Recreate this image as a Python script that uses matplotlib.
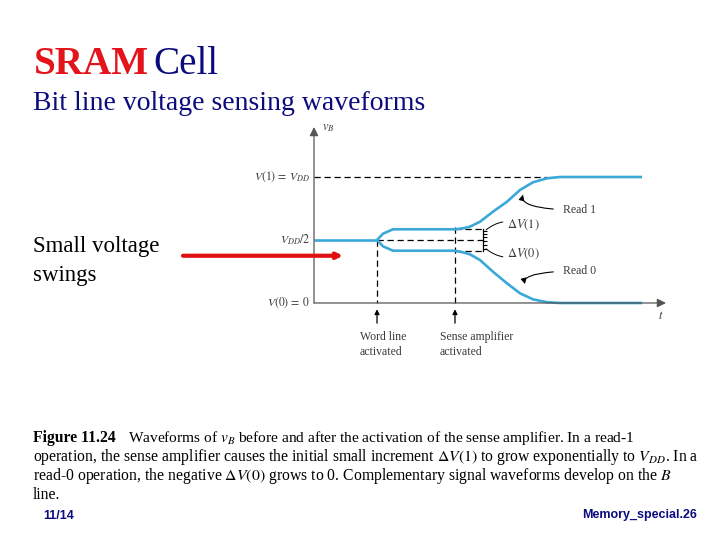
import matplotlib
matplotlib.use('Agg')
import matplotlib.pyplot as plt

plt.rcParams['font.family'] = ['Liberation Serif', 'DejaVu Serif']
plt.rcParams['mathtext.fontset'] = 'stix'

# waveform data (time in arbitrary units, voltage normalised to VDD = 1)
t_pre = [0.0, 6.3]
v_pre = [0.5, 0.5]
t_branch = [6.3, 6.9, 7.9, 14.1, 14.9, 15.6, 16.6, 17.9, 19.3, 20.6, 21.9, 23.3, 24.6, 32.8]
v_read1 = [0.5, 0.55, 0.585, 0.585, 0.593, 0.606, 0.645, 0.725, 0.804, 0.897, 0.958, 0.99, 1.0, 1.0]
v_read0 = [0.5, 0.45, 0.415, 0.415, 0.402, 0.386, 0.341, 0.248, 0.156, 0.077, 0.029, 0.006, 0.0, 0.0]

t_wordline = 6.3
t_senseamp = 14.1
v_dd = 1.0
dv_end = 16.9

level_labels = [r'$V(1)\,=\,V_{DD}$', r'$V_{DD}/2$', r'$V(0)\,=\,0$']
level_values = [1.0, 0.5, 0.0]

caption = [
    r'Waveforms of $v_B$ before and after the activation of the sense amplifier. In a read-1',
    r'operation, the sense amplifier causes the initial small increment $\Delta V(1)$ to grow exponentially to $V_{DD}$. In a',
    r'read-0 operation, the negative $\Delta V(0)$ grows to 0. Complementary signal waveforms develop on the $B$',
    'line.',
]

W, H = 720, 540
fig = plt.figure(figsize=(7.2, 5.4), dpi=100)
fig.patch.set_facecolor('white')

def px(x, y):
    return x / W, 1 - y / H

navy = '#0B0B7E'
grey = '#3A3A3A'
blue = '#3AA8D8'

# slide text
fig.text(*px(34, 74), 'SRAM', color='#E3141C', fontsize=28.2, fontweight='bold', va='baseline')
fig.text(*px(153, 74), 'Cell', color=navy, fontsize=28.2, va='baseline')
fig.text(*px(33, 110), 'Bit line voltage sensing waveforms', color=navy, fontsize=20, va='baseline')
fig.text(*px(33, 252), 'Small voltage', color='black', fontsize=16.5, va='baseline')
fig.text(*px(33, 281), 'swings', color='black', fontsize=16.5, va='baseline')

# diagram axes
ax = fig.add_axes([170 / W, 1 - 370 / H, 520 / W, 260 / H])
ax.set_xlim(-14.4, 37.6)
ax.set_ylim(-0.532, 1.532)
ax.axis('off')

ax.annotate('', xy=(0, 1.397), xytext=(0, 0),
            arrowprops=dict(arrowstyle='-|>', color='#555555', lw=0.9, mutation_scale=13,
                            shrinkA=0, shrinkB=0))
ax.annotate('', xy=(35.2, 0), xytext=(0, 0),
            arrowprops=dict(arrowstyle='-|>', color='#555555', lw=0.9, mutation_scale=13,
                            shrinkA=0, shrinkB=0))
ax.text(0.8, 1.39, r'$v_B$', fontsize=9, color=grey, ha='left', va='center')
ax.text(34.7, -0.1, r'$t$', fontsize=9, color=grey, ha='center', va='center')

dash = (0, (5, 3))
ax.plot([0, 23.3], [v_dd, v_dd], color='black', lw=0.9, ls=dash)
ax.plot([t_wordline, dv_end], [0.5, 0.5], color='black', lw=0.9, ls=dash)
ax.plot([t_senseamp, dv_end], [v_read1[3], v_read1[3]], color='black', lw=0.9, ls=dash)
ax.plot([t_senseamp, dv_end], [v_read0[3], v_read0[3]], color='black', lw=0.9, ls=dash)
ax.plot([t_wordline, t_wordline], [0.5, 0], color='black', lw=0.9, ls=dash)
ax.plot([t_senseamp, t_senseamp], [0.6, 0], color='black', lw=0.9, ls=dash)

# delta-V bracket
ax.plot([dv_end, dv_end], [v_read0[3], v_read1[3]], color='black', lw=0.9)
ax.plot([dv_end] * 6, [0.43, 0.46, 0.49, 0.52, 0.55, 0.575], ls='none', marker=1,
        markersize=3, color='black', mew=0.8)

ax.plot(t_pre, v_pre, color=blue, lw=1.9, solid_capstyle='butt')
ax.plot(t_branch, v_read1, color=blue, lw=1.9, solid_capstyle='butt')
ax.plot(t_branch, v_read0, color=blue, lw=1.9, solid_capstyle='butt')

for lab, v in zip(level_labels, level_values):
    ax.text(-0.4, v, lab, fontsize=8.5, color=grey, ha='right', va='center')

ax.annotate(r'$\Delta V(1)$', xy=(dv_end + 0.3, 0.58), xytext=(19.3, 0.62),
            fontsize=9, color=grey, ha='left', va='center',
            arrowprops=dict(arrowstyle='-', color='black', lw=0.7,
                            connectionstyle='arc3,rad=0.3', shrinkA=1, shrinkB=0))
ax.annotate(r'$\Delta V(0)$', xy=(dv_end + 0.3, 0.43), xytext=(19.3, 0.39),
            fontsize=9, color=grey, ha='left', va='center',
            arrowprops=dict(arrowstyle='-', color='black', lw=0.7,
                            connectionstyle='arc3,rad=-0.3', shrinkA=1, shrinkB=0))
ax.annotate('Read 1', xy=(20.9, 0.86), xytext=(24.9, 0.738),
            fontsize=8.5, color=grey, ha='left', va='center',
            arrowprops=dict(arrowstyle='-|>', color='black', lw=0.8, mutation_scale=8,
                            connectionstyle='angle3,angleA=0,angleB=75', shrinkA=5, shrinkB=0))
ax.annotate('Read 0', xy=(21.1, 0.15), xytext=(24.9, 0.254),
            fontsize=8.5, color=grey, ha='left', va='center',
            arrowprops=dict(arrowstyle='-|>', color='black', lw=0.8, mutation_scale=8,
                            connectionstyle='angle3,angleA=0,angleB=-75', shrinkA=5, shrinkB=0))

for tx, lab, tl in [(t_wordline, 'Word line\nactivated', 4.6),
                    (t_senseamp, 'Sense amplifier\nactivated', 12.6)]:
    ax.annotate('', xy=(tx, -0.05), xytext=(tx, -0.16),
                arrowprops=dict(arrowstyle='-|>', color='black', lw=0.9, mutation_scale=7,
                                shrinkA=0, shrinkB=0))
    ax.text(tl, -0.225, lab, fontsize=8.5, color=grey, ha='left', va='top', linespacing=1.25)

# red arrow pointing at the small swings
ax.annotate('', xy=(2.9, 0.375), xytext=(-13.1, 0.375),
            arrowprops=dict(arrowstyle='-|>', color='#E01010', lw=3, mutation_scale=8,
                            shrinkA=0, shrinkB=0), annotation_clip=False)

# caption
fs_cap = 11.3
fig.text(*px(33, 442), 'Figure 11.24', fontsize=fs_cap, fontweight='bold', va='baseline')
fig.text(*px(128, 442), caption[0], fontsize=fs_cap - 0.2, va='baseline')
for i, line in enumerate(caption[1:]):
    fig.text(*px(33, 461 + 19 * i), line, fontsize=fs_cap, va='baseline')

foot = ['Liberation Sans Narrow', 'Liberation Sans', 'DejaVu Sans']
fig.text(*px(43, 519), '11/14', fontsize=9, fontweight='bold', color=navy,
         family=foot, va='baseline')
fig.text(*px(697, 518), 'Memory_special.26', fontsize=9, fontweight='bold', color=navy,
         family=foot, va='baseline', ha='right')

fig.savefig('out.png', dpi=100)
